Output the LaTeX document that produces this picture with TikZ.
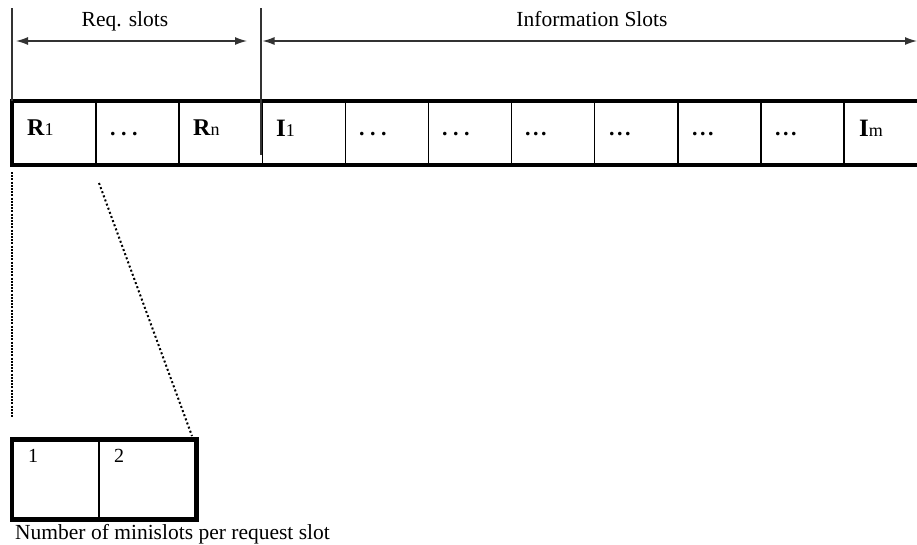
\documentclass[tikz,border=0pt]{standalone}
\usepackage{fontspec}
\setmainfont{Liberation Serif}
\usetikzlibrary{arrows.meta,positioning}
\tikzset{slot/.style={draw,line width=1.5pt,minimum width=83.1pt,minimum height=62pt,inner sep=0pt}}
\tikzset{mini/.style={draw,line width=2pt,minimum height=78pt,inner sep=0pt}}
\tikzset{tag/.style={anchor=base west,inner sep=0pt}}
\tikzset{span/.style={draw=black!80,line width=1.3pt,{Latex[length=12pt,width=8pt]}-{Latex[length=12pt,width=8pt]}}}
\tikzset{guide/.style={draw=black!80,line width=1.5pt}}
\tikzset{zoomline/.style={line width=2pt,dash pattern=on 2pt off 1.2pt}}

\newcommand{\slotR}[1]{{\fontsize{24}{24}\selectfont\textbf{R}}{\fontsize{18}{18}\selectfont #1}}
\newcommand{\slotI}[1]{{\fontsize{25}{25}\selectfont\textbf{I}}{\fontsize{18}{18}\selectfont #1}}
\newcommand{\widedots}{{\fontsize{22}{22}\selectfont\textbf{.\kern5.5pt.\kern5.5pt.}}}
\newcommand{\tightdots}{{\fontsize{22}{22}\selectfont\textbf{.\kern2.5pt.\kern2.5pt.}}}

\begin{document}
\begin{tikzpicture}[x=1pt,y=-1pt,font=\fontsize{21.5}{24}\selectfont]
		\useasboundingbox (0,0) rectangle (917,544);

		% request and information slots
		\node[slot](r1) at (54.55,133){};
		\node[slot](rdots) at (137.65,133){};
		\node[slot](rn) at (220.75,133){};
		\node[slot](i1) at (303.85,133){};
		\node[slot](idotsa) at (386.95,133){};
		\node[slot](idotsb) at (470.05,133){};
		\node[slot](idotsc) at (553.15,133){};
		\node[slot](idotsd) at (636.25,133){};
		\node[slot](idotse) at (719.35,133){};
		\node[slot](idotsf) at (802.45,133){};
		\node[slot](im) at (885.55,133){};
		\draw[line width=4pt] (im.south east) -- (r1.south west) -- (r1.north west) -- (im.north east);

		\node[tag](tr1) at (27,135){\slotR{1}};
		\node[tag](trdots) at (110,135){\widedots};
		\node[tag](trn) at (193,135){\slotR{n}};
		\node[tag](ti1) at (276,136){\slotI{1}};
		\node[tag](tidotsa) at (359,135){\widedots};
		\node[tag](tidotsb) at (442,135){\widedots};
		\node[tag](tidotsc) at (525,135){\tightdots};
		\node[tag](tidotsd) at (609,135){\tightdots};
		\node[tag](tidotse) at (692,135){\tightdots};
		\node[tag](tidotsf) at (775,135){\tightdots};
		\node[tag](tim) at (859,136){\slotI{m}};

		% extent of the two groups
		\coordinate (reqtop) at (12,8);
		\coordinate (infotop) at (261,8);
		\coordinate (infobot) at (261,155);
		\draw[guide] (reqtop) -- (reqtop |- r1.north);
		\draw[guide] (infotop) -- (infobot);

		\coordinate (reqL) at (16,41);
		\coordinate (reqR) at (247,41);
		\coordinate (infoL) at (262.5,41);
		\coordinate (infoR) at (917,41);
		\draw[span] (reqL) -- (reqR);
		\draw[span] (infoL) -- (infoR);
		\node[anchor=base](reqtxt) at (125,26){Req. slots};
		\node[anchor=base](infotxt) at (592,26){Information Slots};

		% minislots
		\node[mini,minimum width=86pt](m1) at (56,479.5){};
		\node[mini,minimum width=96.5pt](m2) at (147.25,479.5){};
		\draw[line width=4.5pt] (m1.south west) rectangle (m2.north east);
		\node[tag,font=\fontsize{20}{20}\selectfont](tm1) at (28,462){1};
		\node[tag,font=\fontsize{20}{20}\selectfont](tm2) at (114,462){2};
		\node[tag](caption) at (15,539){Number of minislots per request slot};

		\coordinate (zoomA) at (12,172);
		\coordinate (zoomB) at (12,418);
		\coordinate (zoomC) at (99,183);
		\coordinate (zoomD) at (192,436);
		\draw[zoomline] (zoomA) -- (zoomB);
		\draw[zoomline,dash pattern=on 2pt off 2.4pt] (zoomC) -- (zoomD);
\end{tikzpicture}
\end{document}
